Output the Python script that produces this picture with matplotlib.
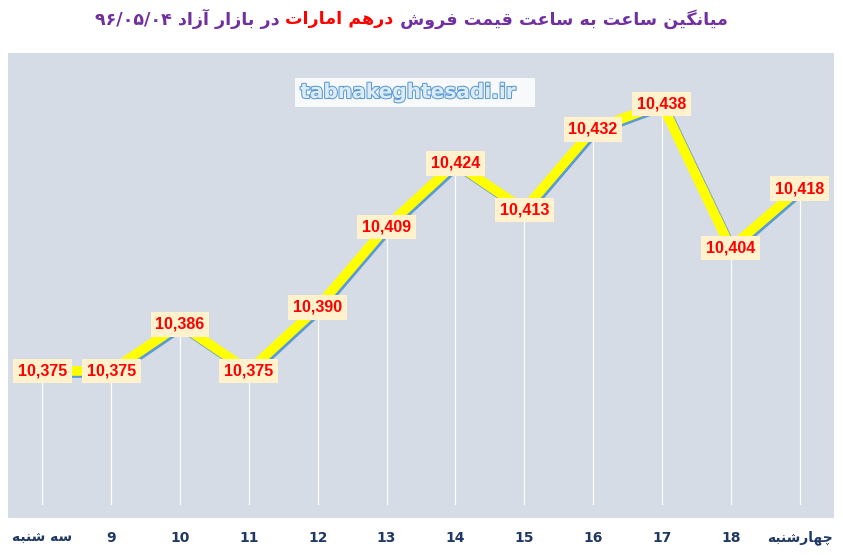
import matplotlib
matplotlib.use("Agg")
import matplotlib.pyplot as plt
import matplotlib.patheffects as pe

# ---------------- data ----------------
categories = ["سه شنبه", "9", "10", "11", "12", "13", "14", "15", "16", "17", "18", "چهارشنبه"]
values = [10375, 10375, 10386, 10375, 10390, 10409, 10424, 10413, 10432, 10438, 10404, 10418]
title_part1 = "میانگین ساعت به ساعت قیمت فروش "
title_part2 = "درهم امارات"
title_part3 = " در بازار آزاد ۹۶/۰۵/۰۴"
watermark = "tabnakeghtesadi.ir"

# ---------------- simple Persian shaping ----------------
FORMS = {
    'ا': (0xFE8D, 0xFE8E, None, None),
    'آ': (0xFE81, 0xFE82, None, None),
    'ب': (0xFE8F, 0xFE90, 0xFE91, 0xFE92),
    'ت': (0xFE95, 0xFE96, 0xFE97, 0xFE98),
    'ث': (0xFE99, 0xFE9A, 0xFE9B, 0xFE9C),
    'ج': (0xFE9D, 0xFE9E, 0xFE9F, 0xFEA0),
    'ح': (0xFEA1, 0xFEA2, 0xFEA3, 0xFEA4),
    'خ': (0xFEA5, 0xFEA6, 0xFEA7, 0xFEA8),
    'د': (0xFEA9, 0xFEAA, None, None),
    'ذ': (0xFEAB, 0xFEAC, None, None),
    'ر': (0xFEAD, 0xFEAE, None, None),
    'ز': (0xFEAF, 0xFEB0, None, None),
    'س': (0xFEB1, 0xFEB2, 0xFEB3, 0xFEB4),
    'ش': (0xFEB5, 0xFEB6, 0xFEB7, 0xFEB8),
    'ع': (0xFEC9, 0xFECA, 0xFECB, 0xFECC),
    'غ': (0xFECD, 0xFECE, 0xFECF, 0xFED0),
    'ف': (0xFED1, 0xFED2, 0xFED3, 0xFED4),
    'ق': (0xFED5, 0xFED6, 0xFED7, 0xFED8),
    'ک': (0xFB8E, 0xFB8F, 0xFB90, 0xFB91),
    'ل': (0xFEDD, 0xFEDE, 0xFEDF, 0xFEE0),
    'م': (0xFEE1, 0xFEE2, 0xFEE3, 0xFEE4),
    'ن': (0xFEE5, 0xFEE6, 0xFEE7, 0xFEE8),
    'ه': (0xFEE9, 0xFEEA, 0xFEEB, 0xFEEC),
    'و': (0xFEED, 0xFEEE, None, None),
    'ی': (0xFBFC, 0xFBFD, 0xFBFE, 0xFBFF),
    'گ': (0xFB92, 0xFB93, 0xFB94, 0xFB95),
    'چ': (0xFB7A, 0xFB7B, 0xFB7C, 0xFB7D),
}


def shape(s):
    out = []
    n = len(s)
    for i, ch in enumerate(s):
        if ch not in FORMS:
            out.append(ch)
            continue
        iso, fin, ini, med = FORMS[ch]
        prev = s[i - 1] if i > 0 else None
        nxt = s[i + 1] if i < n - 1 else None
        join_prev = prev in FORMS and FORMS[prev][2] is not None
        join_next = nxt in FORMS and ini is not None
        if join_prev and join_next:
            out.append(chr(med))
        elif join_prev:
            out.append(chr(fin))
        elif join_next:
            out.append(chr(ini))
        else:
            out.append(chr(iso))
    return out


def rtl(s):
    """Shape and reorder an RTL string; keep digit runs left-to-right."""
    chars = shape(s)
    runs = []
    digits = set("۰۱۲۳۴۵۶۷۸۹0123456789/")
    cur = []
    cur_type = None
    for c in chars:
        t = c in digits
        if cur and t != cur_type:
            runs.append((cur_type, cur))
            cur = []
        cur.append(c)
        cur_type = t
    if cur:
        runs.append((cur_type, cur))
    res = []
    for t, r in reversed(runs):
        res.append("".join(r) if t else "".join(reversed(r)))
    return "".join(res)


# ---------------- figure ----------------
W, H = 843, 555
fig = plt.figure(figsize=(W / 100, H / 100), dpi=100, facecolor="white")
ax = fig.add_axes([8 / W, 1 - 518 / H, (834 - 8) / W, (518 - 53) / H])
ax.set_facecolor("#D6DCE5")
for sp in ax.spines.values():
    sp.set_visible(False)

x = list(range(len(values)))
ax.set_xlim(-0.5, len(values) - 0.5)
ax.set_ylim(10340.3, 10450.0)

# drop lines
for xi, v in zip(x, values):
    ax.plot([xi, xi], [10343.5, v], color="white", lw=0.9, zorder=2)

# main line with blue shadow
ax.plot(x, values, color="#FFFF00", lw=7, solid_joinstyle="miter", zorder=3,
        path_effects=[pe.SimpleLineShadow(offset=(1.3, -1.5), shadow_color="#5B9BD5", alpha=1.0),
                      pe.Normal()])

# data labels
for xi, v in zip(x, values):
    ax.text(xi, v, f"{v:,}", ha="center", va="center", fontsize=11.5, fontweight="bold",
            family=["Liberation Sans", "DejaVu Sans"], color="#FF0000", zorder=5,
            bbox=dict(boxstyle="square,pad=0.3", facecolor="#FFF2CC", edgecolor="none"))

# category labels
ax.set_xticks(x)
ax.set_xticklabels([rtl(c) if not c.isdigit() else c for c in categories],
                   fontsize=10, fontweight="bold", color="#1F3864",
                   family=["DejaVu Sans"])
ax.tick_params(axis="x", length=0, pad=9)
ax.set_yticks([])

# watermark
ax.text(0.493, 0.915, watermark + "  ", transform=ax.transAxes, ha="center", va="center",
        fontsize=14.5, fontweight="bold", color="#DDEBF7", family=["DejaVu Sans"],
        path_effects=[pe.withStroke(linewidth=1.5, foreground="#5B9BD5")],
        bbox=dict(boxstyle="square,pad=0.25", facecolor="white", edgecolor="none", alpha=0.85),
        zorder=4)

# title (RTL: part3 on the left, part1 on the right)
fs = 12.6
tfam = ["DejaVu Sans"]
ty = 1 - 19 / H
t1 = fig.text(0.5, ty, rtl(title_part1), ha="left", va="center", fontsize=fs,
              fontweight="bold", color="#7030A0", family=tfam)
t2 = fig.text(0.5, ty, rtl(title_part2), ha="left", va="center", fontsize=fs,
              fontweight="bold", color="#FF0000", family=tfam)
t3 = fig.text(0.5, ty, rtl(title_part3), ha="left", va="center", fontsize=fs,
              fontweight="bold", color="#7030A0", family=tfam)

fig.canvas.draw()
r = fig.canvas.get_renderer()
w1 = t1.get_window_extent(r).width
w2 = t2.get_window_extent(r).width
w3 = t3.get_window_extent(r).width
total = w1 + w2 + w3
left = 411 - total / 2
t3.set_x(left / W)
t2.set_x((left + w3) / W)
t1.set_x((left + w3 + w2) / W)

fig.savefig("out.png", dpi=100, facecolor="white")
